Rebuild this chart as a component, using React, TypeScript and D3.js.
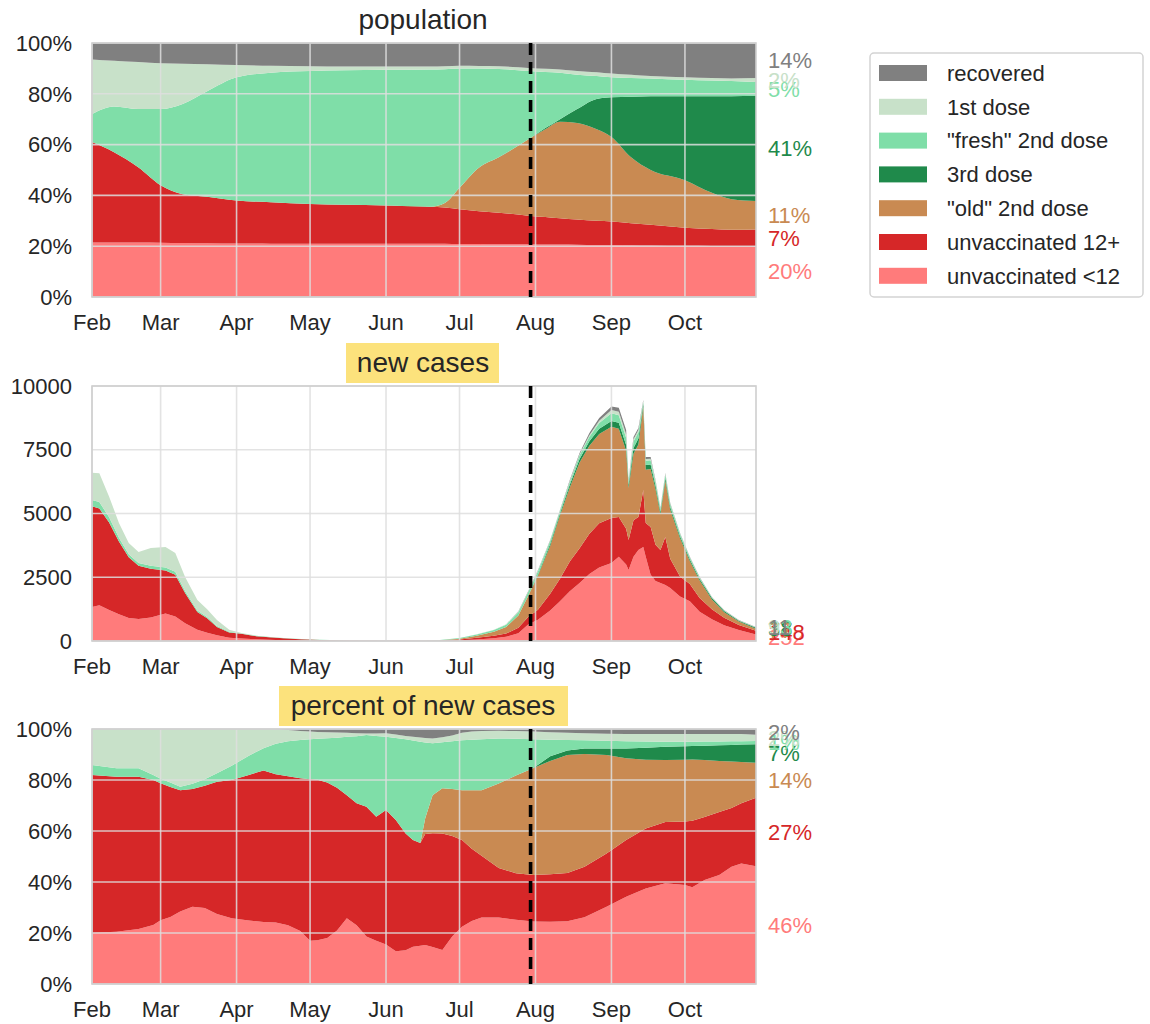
import React from "react";
import * as d3 from "d3";

// ---------------- data ----------------
const seriesKeys = ["under12", "plus12", "old2nd", "third", "fresh2nd", "first", "recovered"];
const seriesNames = [
  "unvaccinated <12",
  "unvaccinated 12+",
  '"old" 2nd dose',
  "3rd dose",
  '"fresh" 2nd dose',
  "1st dose",
  "recovered",
];
const seriesColors = ["#ff7b7b", "#d62728", "#c98a52", "#1f8a4b", "#7fdea8", "#c8e1c9", "#808080"];

const monthTicks = [
  "2021-02-01", "2021-03-01", "2021-04-01", "2021-05-01", "2021-06-01",
  "2021-07-01", "2021-08-01", "2021-09-01", "2021-10-01",
];
const monthLabels = ["Feb", "Mar", "Apr", "May", "Jun", "Jul", "Aug", "Sep", "Oct"];
const dateStart = "2021-02-01";
const dateEnd = "2021-10-30";
const boosterDate = "2021-07-30";

const pctTicks = [0, 20, 40, 60, 80, 100];
const caseTicks = [0, 2500, 5000, 7500, 10000];

// population shares (%)
const popDates = [
  "2021-02-01", "2021-02-10", "2021-02-20", "2021-03-01", "2021-03-10", "2021-03-20", "2021-04-01",
  "2021-04-15", "2021-05-01", "2021-05-15", "2021-06-01", "2021-06-19", "2021-06-25", "2021-07-01",
  "2021-07-09", "2021-07-17", "2021-07-29", "2021-08-05", "2021-08-11", "2021-08-18", "2021-08-26",
  "2021-09-01", "2021-09-09", "2021-09-17", "2021-10-01", "2021-10-12", "2021-10-20", "2021-10-30",
];
const popUnder12 = [21.5, 21.5, 21.5, 21.4, 21.3, 21.2, 21.1, 21.0, 21, 21, 21, 21, 21, 20.9, 20.9, 20.8, 20.8, 20.7, 20.7, 20.6, 20.5, 20.5, 20.4, 20.3, 20.2, 20.1, 20, 20];
const pop12plus = [39.5, 35.5, 29.5, 22.6, 19.2, 18.3, 16.9, 16.3, 15.6, 15.3, 15, 14.5, 14.2, 13.6, 12.9, 12.4, 11.2, 10.8, 10.3, 9.9, 9.5, 9.2, 8.6, 8.1, 7.1, 6.7, 6.5, 6.6];
const popOld2nd = [0, 0, 0, 0, 0, 0, 0, 0, 0, 0, 0, 0, 1.8, 8.5, 17.2, 21.8, 30, 34.5, 38, 38, 36, 33.3, 26, 21.6, 18.7, 14.2, 12, 11.2];
const popThird = [0, 0, 0, 0, 0, 0, 0, 0, 0, 0, 0, 0, 0, 0, 0, 0, 0, 0.5, 1, 5.5, 12, 15.6, 23.8, 29, 33, 38, 40.5, 41.4];
const popFresh2nd = [11, 18, 23, 30, 35.5, 41.5, 48.5, 51, 52.4, 53, 53.5, 54.1, 52.7, 47, 39, 34.8, 27, 22.1, 18.3, 13.5, 9, 7.9, 7.4, 7, 6.5, 6.2, 6, 5.4];
const popFirst = [21.5, 18, 18.5, 18, 15.8, 10.6, 4.8, 2.7, 1.8, 1.4, 1.2, 1.1, 1.1, 1, 0.9, 1, 1.2, 1.3, 1.3, 1.5, 1.5, 1.5, 1.3, 1, 1, 1, 1, 1.6];
const popRecovered = [6.5, 7, 7.5, 8, 8.2, 8.4, 8.7, 9, 9.2, 9.3, 9.3, 9.3, 9.2, 9, 9.1, 9.2, 9.8, 10.1, 10.4, 11, 11.5, 12, 12.5, 13, 13.5, 13.8, 14, 13.8];

// new cases (count)
const caseDates = [
  "2021-02-01", "2021-02-04", "2021-02-08", "2021-02-12", "2021-02-16", "2021-02-20", "2021-02-25",
  "2021-03-03", "2021-03-07", "2021-03-11", "2021-03-16", "2021-03-20", "2021-03-24", "2021-03-29",
  "2021-04-03", "2021-04-09", "2021-04-17", "2021-04-25", "2021-05-05", "2021-05-18",
  "2021-06-01", "2021-06-15", "2021-06-22",
  "2021-07-01", "2021-07-08", "2021-07-15", "2021-07-20", "2021-07-25", "2021-07-29",
  "2021-08-02", "2021-08-07", "2021-08-11", "2021-08-15", "2021-08-19", "2021-08-23", "2021-08-27",
  "2021-09-01", "2021-09-04", "2021-09-07", "2021-09-08", "2021-09-10", "2021-09-12", "2021-09-14",
  "2021-09-15", "2021-09-17", "2021-09-19", "2021-09-21", "2021-09-23", "2021-09-25", "2021-09-29",
  "2021-10-03", "2021-10-07", "2021-10-12", "2021-10-17", "2021-10-23", "2021-10-30",
];
const caseUnder12 = [1330, 1400, 1220, 1050, 900, 860, 920, 1080, 960, 700, 440, 320, 230, 130, 100, 70, 40, 25, 9, 5, 2, 2, 5, 28, 60, 110, 165, 300, 650, 830, 1200, 1560, 1950, 2270, 2630, 2880, 3060, 3300, 3000, 2780, 3300, 3570, 3690, 3300, 2600, 2350, 2270, 2200, 2080, 1750, 1560, 1150, 850, 620, 430, 252];
const case12plus = [3950, 3800, 3430, 2850, 2380, 2090, 1910, 1680, 1640, 1180, 700, 570, 320, 200, 180, 120, 85, 55, 30, 10, 7, 5, 13, 35, 70, 95, 125, 220, 290, 400, 650, 880, 1170, 1370, 1580, 1740, 1760, 1560, 1400, 1180, 1440, 1290, 2230, 1330, 1870, 1420, 1300, 1880, 1150, 780, 680, 540, 400, 290, 200, 148];
const caseOld2nd = [0, 0, 0, 0, 0, 0, 0, 0, 0, 0, 0, 0, 0, 0, 0, 0, 0, 0, 0, 0, 0, 0, 6, 30, 80, 160, 260, 480, 820, 1330, 1880, 2480, 2900, 3360, 3450, 3500, 3580, 3460, 3060, 2040, 2600, 2850, 3260, 2090, 2280, 2180, 1390, 2200, 1920, 1500, 890, 680, 380, 220, 130, 77];
const caseThird = [0, 0, 0, 0, 0, 0, 0, 0, 0, 0, 0, 0, 0, 0, 0, 0, 0, 0, 0, 0, 0, 0, 0, 0, 0, 0, 0, 0, 0, 40, 70, 80, 110, 140, 170, 200, 230, 240, 230, 130, 230, 230, 110, 180, 170, 140, 100, 110, 100, 80, 70, 65, 55, 50, 35, 38];
const caseFresh2nd = [250, 250, 200, 150, 120, 110, 120, 120, 120, 80, 60, 50, 40, 30, 15, 12, 10, 7, 8, 6, 3, 5, 6, 22, 45, 65, 85, 130, 150, 140, 120, 100, 110, 140, 180, 230, 300, 290, 280, 110, 250, 250, 80, 170, 170, 140, 100, 130, 110, 90, 70, 45, 25, 20, 12, 13];
const caseFirst = [1070, 1130, 810, 580, 440, 430, 700, 810, 730, 550, 410, 310, 230, 80, 20, 8, 5, 3, 1, 0.3, 0.2, 0.2, 0.5, 3, 7, 12, 18, 30, 25, 20, 20, 20, 30, 40, 60, 90, 130, 140, 140, 40, 90, 80, 40, 70, 60, 40, 30, 35, 25, 20, 15, 15, 10, 8, 5, 9];
const caseRecovered = [0, 0, 0, 0, 0, 0, 0, 0, 0, 0, 0, 0, 0, 0, 0, 0, 0, 0, 1, 0.4, 0.2, 0.4, 1, 2, 3, 3, 5, 10, 15, 20, 20, 20, 40, 50, 90, 110, 140, 160, 160, 30, 90, 80, 40, 80, 70, 40, 30, 35, 25, 20, 15, 15, 10, 12, 8, 11];

// percent of new cases (%)
const pctDates = [
  "2021-02-01", "2021-02-11", "2021-02-20", "2021-02-26", "2021-03-01", "2021-03-05", "2021-03-09",
  "2021-03-14", "2021-03-19", "2021-03-24", "2021-03-30", "2021-04-06", "2021-04-12", "2021-04-17",
  "2021-04-22", "2021-04-27", "2021-05-01", "2021-05-04", "2021-05-08", "2021-05-12", "2021-05-16",
  "2021-05-20", "2021-05-24", "2021-05-28", "2021-06-01", "2021-06-05", "2021-06-09", "2021-06-12",
  "2021-06-15", "2021-06-17", "2021-06-20", "2021-06-24", "2021-06-28", "2021-07-02", "2021-07-06",
  "2021-07-10", "2021-07-17", "2021-07-24", "2021-07-31", "2021-08-07", "2021-08-14", "2021-08-21",
  "2021-08-30", "2021-09-07", "2021-09-15", "2021-09-23", "2021-10-01", "2021-10-04", "2021-10-09",
  "2021-10-15", "2021-10-20", "2021-10-24", "2021-10-30",
];
const pctUnder12 = [20.1, 20.5, 21.6, 23.1, 25.0, 26.3, 28.4, 30.3, 29.8, 27.5, 25.8, 24.9, 24.3, 24.1, 23.0, 20.8, 17.0, 17.2, 18.0, 21.0, 25.8, 23.0, 18.6, 17.0, 15.5, 12.8, 13.2, 14.6, 15.0, 15.3, 14.5, 13.3, 18.6, 22.5, 24.7, 26.1, 26.1, 25.2, 24.5, 24.4, 24.6, 26.2, 30.3, 34.2, 37.5, 39.5, 38.8, 37.9, 40.8, 42.7, 46.0, 47.3, 46.2];
const pct12plus = [61.9, 60.8, 59.7, 56.9, 53.7, 51.0, 47.6, 46.2, 47.9, 51.8, 54.2, 57.1, 59.4, 58.2, 58.5, 59.9, 63.3, 62.9, 61.0, 56.0, 48.2, 47.9, 50.9, 48.6, 52.7, 51.5, 45.8, 41.9, 40.3, 43.5, 44.6, 45.7, 39.4, 34.0, 28.3, 24.2, 19.4, 18.2, 18.2, 18.6, 18.9, 19.8, 20.9, 22.3, 23.5, 24.0, 24.9, 26.1, 24.7, 24.8, 23.0, 23.6, 26.8];
const pctOld2nd = [0, 0, 0, 0, 0, 0, 0, 0, 0, 0, 0, 0, 0, 0, 0, 0, 0, 0, 0, 0, 0, 0, 0, 0, 0, 0, 0, 0, 0, 6.2, 14.9, 17.8, 18.5, 19.5, 23.0, 25.7, 33.1, 38.4, 41.9, 44.5, 46.3, 44.2, 38.6, 32.0, 26.9, 24.3, 24.2, 24.0, 22.3, 20.0, 18.3, 16.2, 13.8];
const pctThird = [0, 0, 0, 0, 0, 0, 0, 0, 0, 0, 0, 0, 0, 0, 0, 0, 0, 0, 0, 0, 0, 0, 0, 0, 0, 0, 0, 0, 0, 0, 0, 0, 0, 0, 0, 0, 0, 0, 0, 1.8, 1.8, 2.2, 2.6, 3.9, 4.7, 5.2, 5.3, 5.3, 5.6, 6.1, 6.4, 6.8, 7.2];
const pctFresh2nd = [3.9, 3.3, 3.3, 2.0, 1.8, 1.7, 1.4, 2.0, 2.6, 3.3, 5.6, 7.5, 8.8, 11.9, 13.7, 15.0, 15.7, 16.1, 17.4, 19.6, 23.0, 26.3, 28.1, 31.7, 28.8, 32.2, 37.0, 39.0, 39.7, 29.7, 20.4, 18.0, 18.7, 19.6, 19.8, 20.0, 17.7, 14.4, 11.4, 6.5, 4.1, 3.2, 3.0, 2.8, 2.5, 2.0, 1.8, 1.7, 1.7, 1.5, 1.5, 1.3, 1.3];
const pctFirst = [14.1, 15.4, 15.4, 18.0, 19.5, 21.0, 22.6, 21.5, 19.7, 17.4, 14.4, 10.5, 7.5, 5.8, 4.4, 3.5, 3.0, 2.6, 2.3, 2.0, 1.5, 1.1, 0.6, 0.9, 1.3, 1.3, 1.3, 1.5, 1.7, 1.8, 1.9, 2.0, 2.3, 2.9, 3.2, 3.2, 3.0, 3.0, 3.0, 2.9, 2.8, 2.7, 2.7, 2.8, 2.9, 3.0, 3.0, 3.0, 2.9, 2.9, 2.8, 2.8, 2.4];
const pctRecovered = [0, 0, 0, 0, 0, 0, 0, 0, 0, 0, 0, 0, 0, 0, 0.4, 0.8, 1.0, 1.2, 1.3, 1.4, 1.5, 1.7, 1.8, 1.8, 1.7, 2.2, 2.7, 3.0, 3.3, 3.5, 3.7, 3.2, 2.5, 1.5, 1.0, 0.8, 0.7, 0.8, 1.0, 1.3, 1.5, 1.7, 1.9, 2.0, 2.0, 2.0, 2.0, 2.0, 2.0, 2.0, 2.0, 2.0, 2.3];

// ---------------- layout ----------------
const FONT = "'Liberation Sans', Arial, Helvetica, sans-serif";
const TEXT = "#262626";
const LEFT = 92;
const RIGHT = 756;
const parse = d3.timeParse("%Y-%m-%d");

type PanelProps = {
  top: number;
  height: number;
  dates: string[];
  values: number[][];
  yMax: number;
  ticks: number[];
  tickFmt: (v: number) => string;
  labelFmt: (v: number) => string;
  curve: any;
  title: string;
  titleBox?: { x: number; w: number };
};

function Panel(p: PanelProps) {
  const x = d3.scaleTime().domain([parse(dateStart)!, parse(dateEnd)!]).range([LEFT, RIGHT]);
  const y = d3.scaleLinear().domain([0, p.yMax]).range([p.top + p.height, p.top]);
  const rows = p.dates.map((d, i) => {
    const r: any = { date: parse(d) };
    seriesKeys.forEach((k, j) => (r[k] = p.values[j][i]));
    return r;
  });
  const stacked = d3.stack<any>().keys(seriesKeys)(rows);
  const area = d3
    .area<any>()
    .x((d) => x(d.data.date))
    .y0((d) => y(d[0]))
    .y1((d) => y(d[1]))
    .curve(p.curve);
  const bottom = p.top + p.height;
  const last = rows.length - 1;
  const bx = x(parse(boosterDate)!);
  return (
    <g>
      {stacked.map((s, i) => (
        <path key={s.key} d={area(s) || ""} fill={seriesColors[i]} />
      ))}
      {/* grid */}
      {monthTicks.map((m) => (
        <line key={m} x1={x(parse(m)!)} x2={x(parse(m)!)} y1={p.top} y2={bottom} stroke="#dedede" strokeOpacity={0.85} strokeWidth={1.6} />
      ))}
      {p.ticks.map((t) => (
        <line key={t} x1={LEFT} x2={RIGHT} y1={y(t)} y2={y(t)} stroke="#dedede" strokeOpacity={0.85} strokeWidth={1.6} />
      ))}
      <rect x={LEFT} y={p.top} width={RIGHT - LEFT} height={p.height} fill="none" stroke="#cfcfcf" strokeWidth={1.6} />
      <line x1={bx} x2={bx} y1={p.top} y2={bottom} stroke="#000" strokeWidth={3.6} strokeDasharray="12 7" />
      {/* x tick labels */}
      {monthTicks.map((m, i) => (
        <text key={m} x={x(parse(m)!)} y={bottom + 25} dy="0.35em" textAnchor="middle" fontSize={22} fill={TEXT} fontFamily={FONT}>
          {monthLabels[i]}
        </text>
      ))}
      {/* y tick labels */}
      {p.ticks.map((t) => (
        <text key={t} x={72} y={y(t)} dy="0.35em" textAnchor="end" fontSize={22} fill={TEXT} fontFamily={FONT}>
          {p.tickFmt(t)}
        </text>
      ))}
      {/* end labels */}
      {stacked.map((s, i) => {
        const d = s[last];
        return (
          <text key={s.key} x={768} y={y((d[0] + d[1]) / 2)} dy="0.35em" fontSize={22} fill={seriesColors[i]} fontFamily={FONT}>
            {p.labelFmt(d[1] - d[0])}
          </text>
        );
      })}
      {/* title */}
      {p.titleBox && (
        <rect x={p.titleBox.x} y={p.top - 43} width={p.titleBox.w} height={40} fill="#fce27c" />
      )}
      <text x={423} y={p.top - 14} textAnchor="middle" fontSize={28} fill={TEXT} fontFamily={FONT}>
        {p.title}
      </text>
    </g>
  );
}

function Legend() {
  const order = [6, 5, 4, 3, 2, 1, 0];
  return (
    <g>
      <rect x={870} y={53} width={273} height={244} rx={4} fill="#fff" stroke="#d3d3d3" strokeWidth={1.5} />
      {order.map((si, i) => {
        const cy = 73 + i * 33.8;
        return (
          <g key={si}>
            <rect x={879} y={cy - 8} width={48} height={16} fill={seriesColors[si]} />
            <text x={947} y={cy} dy="0.35em" fontSize={22} fill={TEXT} fontFamily={FONT}>
              {seriesNames[si]}
            </text>
          </g>
        );
      })}
    </g>
  );
}

export default function App() {
  const pctFmt = (v: number) => `${v}%`;
  const pctLabel = (v: number) => `${Math.round(v)}%`;
  const numFmt = (v: number) => `${v}`;
  const numLabel = (v: number) => `${Math.round(v)}`;
  return (
    <svg
      width={1150}
      height={1024}
      style={{ position: "absolute", left: 0, top: 0, background: "#fff" }}
    >
      <rect x={0} y={0} width={1150} height={1024} fill="#fff" />
      <Panel
        top={43}
        height={254}
        dates={popDates}
        values={[popUnder12, pop12plus, popOld2nd, popThird, popFresh2nd, popFirst, popRecovered]}
        yMax={100}
        ticks={pctTicks}
        tickFmt={pctFmt}
        labelFmt={pctLabel}
        curve={d3.curveMonotoneX}
        title="population"
      />
      <Panel
        top={386}
        height={255}
        dates={caseDates}
        values={[caseUnder12, case12plus, caseOld2nd, caseThird, caseFresh2nd, caseFirst, caseRecovered]}
        yMax={10000}
        ticks={caseTicks}
        tickFmt={numFmt}
        labelFmt={numLabel}
        curve={d3.curveLinear}
        title="new cases"
        titleBox={{ x: 346, w: 153 }}
      />
      <Panel
        top={729}
        height={255}
        dates={pctDates}
        values={[pctUnder12, pct12plus, pctOld2nd, pctThird, pctFresh2nd, pctFirst, pctRecovered]}
        yMax={100}
        ticks={pctTicks}
        tickFmt={pctFmt}
        labelFmt={pctLabel}
        curve={d3.curveLinear}
        title="percent of new cases"
        titleBox={{ x: 279, w: 289 }}
      />
      <Legend />
    </svg>
  );
}
